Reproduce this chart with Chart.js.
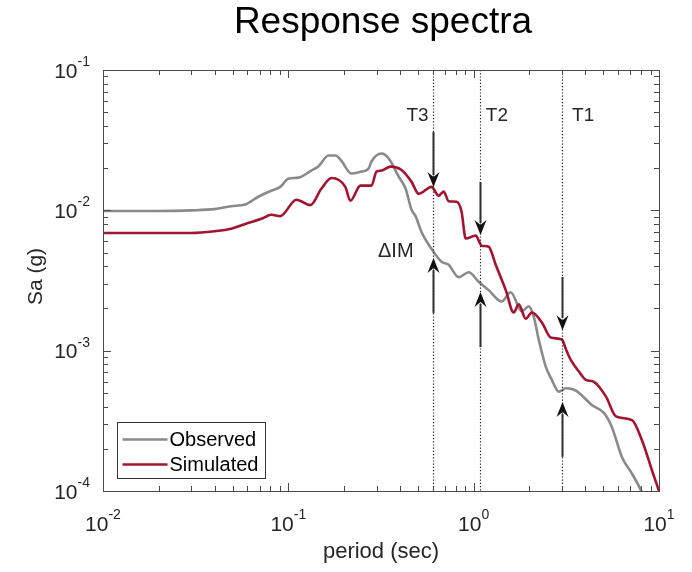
<!DOCTYPE html>
<html>
<head>
<meta charset="utf-8">
<script src="https://cdn.jsdelivr.net/npm/chart.js@4"></script>
<style>
  body { margin: 0; background: #fff; }
</style>
</head>
<body>
<canvas id="chart" width="692" height="572"></canvas>
<script>
// spectra (period in s, Sa in g)
const obsPeriod = [0.01, 0.02, 0.03, 0.04, 0.0492, 0.0586, 0.0689, 0.0809, 0.0905, 0.1, 0.1133, 0.133, 0.145, 0.165,
  0.18, 0.193, 0.219, 0.248, 0.271, 0.281, 0.318, 0.348, 0.394, 0.429, 0.462, 0.486, 0.523, 0.593, 0.671, 0.733,
  0.83, 0.94, 1.064, 1.205, 1.416, 1.584, 1.817, 1.982, 2.109, 2.244, 2.449, 2.64, 2.88, 3.142, 3.556, 3.834,
  4.343, 5.044, 5.571, 6.313, 7.149, 7.995, 8.6];
const obsSa = [0.0099, 0.0099, 0.0100, 0.0102, 0.0107, 0.0110, 0.0125, 0.0138, 0.0147, 0.0168, 0.0171, 0.0192, 0.0205, 0.0246,
  0.0246, 0.0226, 0.0183, 0.0189, 0.0198, 0.0223, 0.0254, 0.0234, 0.0174, 0.0143, 0.0101, 0.0091, 0.0070, 0.0053, 0.0043, 0.0041,
  0.00334, 0.00362, 0.0031, 0.0027, 0.00224, 0.00261, 0.00191, 0.00207, 0.00175, 0.0012, 0.00077, 0.00062, 0.00051, 0.00054, 0.00052, 0.00048,
  0.00041, 0.00036, 0.000285, 0.000174, 0.000133, 0.000101, 0.00008];

const simPeriod = [0.01, 0.02, 0.03, 0.04, 0.0492, 0.0586, 0.0715, 0.0809, 0.0905, 0.1105, 0.1315, 0.151, 0.171, 0.203,
  0.216, 0.245, 0.281, 0.299, 0.318, 0.356, 0.408, 0.462, 0.505, 0.593, 0.647, 0.689, 0.733, 0.809, 0.86, 0.906,
  1.025, 1.105, 1.205, 1.315, 1.49, 1.644, 1.75, 1.91, 2.06, 2.333, 2.608, 2.992, 3.15, 3.342, 3.697, 4.029,
  4.455, 5.177, 5.861, 7.149, 8.09, 9.17, 10];
const simSa = [0.0069, 0.0069, 0.0069, 0.0071, 0.0074, 0.0080, 0.0087, 0.0093, 0.0091, 0.0119, 0.0109, 0.0143, 0.0170, 0.0147,
  0.0117, 0.0150, 0.0150, 0.0189, 0.0192, 0.0205, 0.0194, 0.0160, 0.0131, 0.0147, 0.0127, 0.0136, 0.0116, 0.0115, 0.0098, 0.0063,
  0.0066, 0.0056, 0.0055, 0.0041, 0.0027, 0.00187, 0.00214, 0.00169, 0.00187, 0.00159, 0.00124, 0.0012, 0.00102, 0.00086, 0.00071, 0.00062,
  0.0006, 0.00047, 0.00034, 0.00032, 0.00023, 0.00014, 0.0001];

const xTickExps = [-2, -1, 0, 1];
const yTickExps = [-4, -3, -2, -1];

// modal periods and their labels
const markPeriods = [0.6, 1.08, 3.0];
const markLabels = ['T3', 'T2', 'T1'];
const markLabelSa = 0.047;

// delta-IM arrows: period, tail Sa, tip Sa
const arrowPeriod = [0.6, 0.6, 1.08, 1.08, 3.0, 3.0];
const arrowFrom = [0.0361, 0.00185, 0.0159, 0.00106, 0.00335, 0.000175];
const arrowTo = [0.01466, 0.00457, 0.00667, 0.00262, 0.0014, 0.000431];
const dimLabelPeriod = 0.6;
const dimLabelSa = 0.00505;

const FONT = '"Liberation Sans", Arial, sans-serif';
const AXIS_COLOR = '#4a4a4a';

function toPoints(xs, ys) {
  return xs.map((v, i) => ({ x: v, y: ys[i] }));
}

function intMantissa(v) {
  const m = v / Math.pow(10, Math.floor(Math.log10(v) + 1e-9));
  return Math.abs(m - Math.round(m)) < 1e-6;
}

function isDecade(v) {
  const l = Math.log10(v);
  return Math.abs(l - Math.round(l)) < 1e-9;
}

function drawArrow(ctx, px, y0, y1) {
  const dir = Math.sign(y1 - y0);
  const headLen = 15, halfW = 6, notch = 5;
  ctx.beginPath();
  ctx.moveTo(px, y0);
  ctx.lineTo(px, y1 - dir * (headLen - 3));
  ctx.stroke();
  ctx.beginPath();
  ctx.moveTo(px, y1);
  ctx.lineTo(px - halfW, y1 - dir * headLen);
  ctx.lineTo(px, y1 - dir * (headLen - notch));
  ctx.lineTo(px + halfW, y1 - dir * headLen);
  ctx.closePath();
  ctx.fill();
}

// power-of-ten label like MATLAB: "10" with a raised exponent
function powerLabel(ctx, exp, cx, cy, align) {
  const e = String(exp);
  ctx.font = '21px ' + FONT;
  const wb = ctx.measureText('10').width;
  ctx.font = '14px ' + FONT;
  const we = ctx.measureText(e).width;
  let left;
  if (align === 'right') left = cx - wb - we;
  else left = cx - (wb + we) / 2;
  ctx.textAlign = 'left';
  ctx.textBaseline = 'middle';
  ctx.font = '21px ' + FONT;
  ctx.fillText('10', left, cy + 2);
  ctx.font = '14px ' + FONT;
  ctx.fillText(e, left + wb, cy - 8);
}

const framePlugin = {
  id: 'frame',
  afterDraw(chart) {
    const { ctx, chartArea: a } = chart;
    const x = chart.scales.x, y = chart.scales.y;
    ctx.save();

    // dotted period markers
    ctx.strokeStyle = '#1a1a1a';
    ctx.lineWidth = 1.2;
    ctx.setLineDash([1.2, 2]);
    markPeriods.forEach(p => {
      const px = Math.round(x.getPixelForValue(p)) + 0.5;
      ctx.beginPath();
      ctx.moveTo(px, a.top);
      ctx.lineTo(px, a.bottom);
      ctx.stroke();
    });
    ctx.setLineDash([]);

    // arrows
    ctx.strokeStyle = '#303030';
    ctx.fillStyle = '#111';
    ctx.lineWidth = 2;
    arrowPeriod.forEach((p, i) => {
      const px = Math.round(x.getPixelForValue(p)) + 0.5;
      drawArrow(ctx, px, y.getPixelForValue(arrowFrom[i]), y.getPixelForValue(arrowTo[i]));
    });

    // marker labels
    ctx.fillStyle = '#262626';
    ctx.font = '19px ' + FONT;
    ctx.textBaseline = 'middle';
    markPeriods.forEach((p, i) => {
      const px = x.getPixelForValue(p);
      const py = y.getPixelForValue(markLabelSa);
      if (i === 0) { ctx.textAlign = 'right'; ctx.fillText(markLabels[i], px - 4, py); }
      else { ctx.textAlign = 'left'; ctx.fillText(markLabels[i], px + (i === 1 ? 6 : 10), py); }
    });
    ctx.font = '20px ' + FONT;
    ctx.textAlign = 'right';
    ctx.fillText('\u0394IM', x.getPixelForValue(dimLabelPeriod) - 19, y.getPixelForValue(dimLabelSa));

    // box
    ctx.strokeStyle = AXIS_COLOR;
    ctx.lineWidth = 1;
    ctx.strokeRect(Math.round(a.left) + 0.5, Math.round(a.top) + 0.5,
      Math.round(a.right - a.left), Math.round(a.bottom - a.top));

    // tick marks on all four sides
    ctx.beginPath();
    x.ticks.forEach(t => {
      if (!intMantissa(t.value)) return;
      const len = isDecade(t.value) ? 8 : 5;
      const px = Math.round(x.getPixelForValue(t.value)) + 0.5;
      ctx.moveTo(px, a.bottom); ctx.lineTo(px, a.bottom - len);
      ctx.moveTo(px, a.top); ctx.lineTo(px, a.top + len);
    });
    y.ticks.forEach(t => {
      if (!intMantissa(t.value)) return;
      const len = isDecade(t.value) ? 8 : 5;
      const py = Math.round(y.getPixelForValue(t.value)) + 0.5;
      ctx.moveTo(a.left, py); ctx.lineTo(a.left + len, py);
      ctx.moveTo(a.right, py); ctx.lineTo(a.right - len, py);
    });
    ctx.stroke();

    // tick labels
    ctx.fillStyle = '#262626';
    xTickExps.forEach(e => powerLabel(ctx, e, x.getPixelForValue(Math.pow(10, e)), a.bottom + 32, 'center'));
    yTickExps.forEach(e => powerLabel(ctx, e, a.left - 13, y.getPixelForValue(Math.pow(10, e)), 'right'));

    // axis titles
    ctx.textAlign = 'center';
    ctx.textBaseline = 'middle';
    ctx.font = '22px ' + FONT;
    ctx.fillText('period (sec)', (a.left + a.right) / 2, a.bottom + 61);
    ctx.save();
    ctx.translate(36, (a.top + a.bottom) / 2 - 4);
    ctx.rotate(-Math.PI / 2);
    ctx.font = '21px ' + FONT;
    ctx.fillText('Sa (g)', 0, 0);
    ctx.restore();

    // title
    ctx.fillStyle = '#000';
    ctx.font = '37px ' + FONT;
    ctx.fillText('Response spectra', (a.left + a.right) / 2 + 2, 23);

    // legend inside lower left corner
    const lx = Math.round(a.left) + 14.5, lw = 148, lh = 56;
    const ly = Math.round(a.bottom) - 12.5 - lh;
    ctx.fillStyle = '#fff';
    ctx.fillRect(lx, ly, lw, lh);
    ctx.strokeStyle = '#333';
    ctx.lineWidth = 1;
    ctx.strokeRect(lx, ly, lw, lh);
    ctx.font = '20px ' + FONT;
    ctx.textAlign = 'left';
    chart.data.datasets.forEach((ds, i) => {
      const ry = ly + 17 + i * 25;
      ctx.strokeStyle = ds.borderColor;
      ctx.lineWidth = 2.5;
      ctx.beginPath();
      ctx.moveTo(lx + 5, ry);
      ctx.lineTo(lx + 50, ry);
      ctx.stroke();
      ctx.fillStyle = '#000';
      ctx.fillText(ds.label, lx + 52, ry + 1);
    });

    ctx.restore();
  }
};

const ctx = document.getElementById('chart').getContext('2d');
new Chart(ctx, {
  type: 'scatter',
  data: {
    datasets: [{
      label: 'Observed',
      data: toPoints(obsPeriod, obsSa),
      showLine: true,
      borderColor: '#8a8a8a',
      borderWidth: 2.6,
      pointRadius: 0,
      cubicInterpolationMode: 'monotone',
      order: 1
    }, {
      label: 'Simulated',
      data: toPoints(simPeriod, simSa),
      showLine: true,
      borderColor: '#a2142f',
      borderWidth: 2.6,
      pointRadius: 0,
      cubicInterpolationMode: 'monotone',
      order: 0
    }]
  },
  options: {
    responsive: false,
    animation: false,
    layout: { padding: { left: 103, right: 33, top: 70, bottom: 81 } },
    plugins: { legend: { display: false }, tooltip: { enabled: false } },
    scales: {
      x: {
        type: 'logarithmic', min: 0.01, max: 10,
        ticks: { display: false },
        grid: { display: false, drawTicks: false },
        border: { display: false }
      },
      y: {
        type: 'logarithmic', min: 0.0001, max: 0.1,
        ticks: { display: false },
        grid: { display: false, drawTicks: false },
        border: { display: false }
      }
    }
  },
  plugins: [framePlugin]
});
</script>
</body>
</html>
